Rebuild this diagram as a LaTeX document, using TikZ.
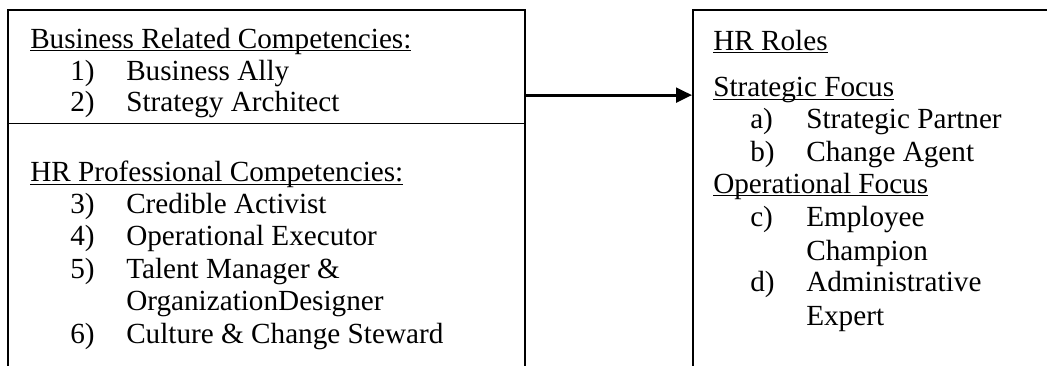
\documentclass[tikz,border=0pt]{standalone}
\usepackage{fontspec}
\setmainfont{Liberation Serif}
\usepackage{tikz}
\usetikzlibrary{arrows.meta}
\usetikzlibrary{calc}
\usetikzlibrary{fit}

% underline sitting just below the baseline, through the descenders
\newcommand{\ulbar}[1]{\setbox0\hbox{#1}\rlap{\rule[-2.25pt]{\wd0}{0.9pt}}\box0}

\tikzset{
  panel/.style={draw, line width=1.5pt, inner sep=0pt},
  divider/.style={line width=1pt},
  flowarrow/.style={line width=2.25pt, -{Triangle[length=12pt,width=11pt]}},
  heading/.style={anchor=base west, inner sep=0pt},
  entry/.style={anchor=base west, inner sep=0pt}
}

\begin{document}
\begin{tikzpicture}[x=0.75pt, y=-0.75pt, font=\fontsize{21.9}{26}\selectfont]
  \useasboundingbox (0,0) rectangle (1047,365);

  % boxes, both run on past the page
  \node[panel, fit={(8,10) (525,420)}] (compbox) {};
  \node[inner sep=0pt, fit={(8,10) (525,123.3)}] (bizsec) {};
  \node[panel, fit={(693,10) (1120,420)}] (rolesbox) {};
  \draw[divider] (bizsec.south west) -- (bizsec.south east);

  % competencies
  \node[heading] (bizhead) at (30,48.3) {\ulbar{Business Related Competencies:}};
  \foreach \n/\txt/\y in {1/Business Ally/80, 2/Strategy Architect/111.7} {
    \node[entry] (num\n) at (70,\y) {\n)};
    \node[entry] (comp\n) at (126,\y) {\txt};
  }
  \node[heading] (hrhead) at (30,181.7) {\ulbar{HR Professional Competencies:}};
  \foreach \n/\txt/\y in {3/Credible Activist/213.3, 4/Operational Executor/245,
      5/Talent Manager \&/278, 6/Culture \& Change Steward/343} {
    \node[entry] (num\n) at (70,\y) {\n)};
    \node[entry] (comp\n) at (126,\y) {\txt};
  }
  \node[entry] (comp5b) at (126,310) {OrganizationDesigner};

  % roles
  \node[heading] (roleshead) at (713,50) {\ulbar{HR Roles}};
  \node[heading] (strathead) at (713,96.7) {\ulbar{Strategic Focus}};
  \foreach \n/\txt/\y in {a/Strategic Partner/128, b/Change Agent/161.7} {
    \node[entry] (num\n) at (750,\y) {\n)};
    \node[entry] (role\n) at (806,\y) {\txt};
  }
  \node[heading] (ophead) at (713,193) {\ulbar{Operational Focus}};
  \foreach \n/\txt/\y in {c/Employee/226.7, d/Administrative/291.7} {
    \node[entry] (num\n) at (750,\y) {\n)};
    \node[entry] (role\n) at (806,\y) {\txt};
  }
  \node[entry] (rolecb) at (806,260) {Champion};
  \node[entry] (roledb) at (806,325) {Expert};

  % arrow
  \coordinate (arrowtail) at ($(bizsec.north east)!.75!(bizsec.south east)$);
  \draw[flowarrow] (arrowtail) -- (arrowtail -| rolesbox.west);
\end{tikzpicture}
\end{document}
